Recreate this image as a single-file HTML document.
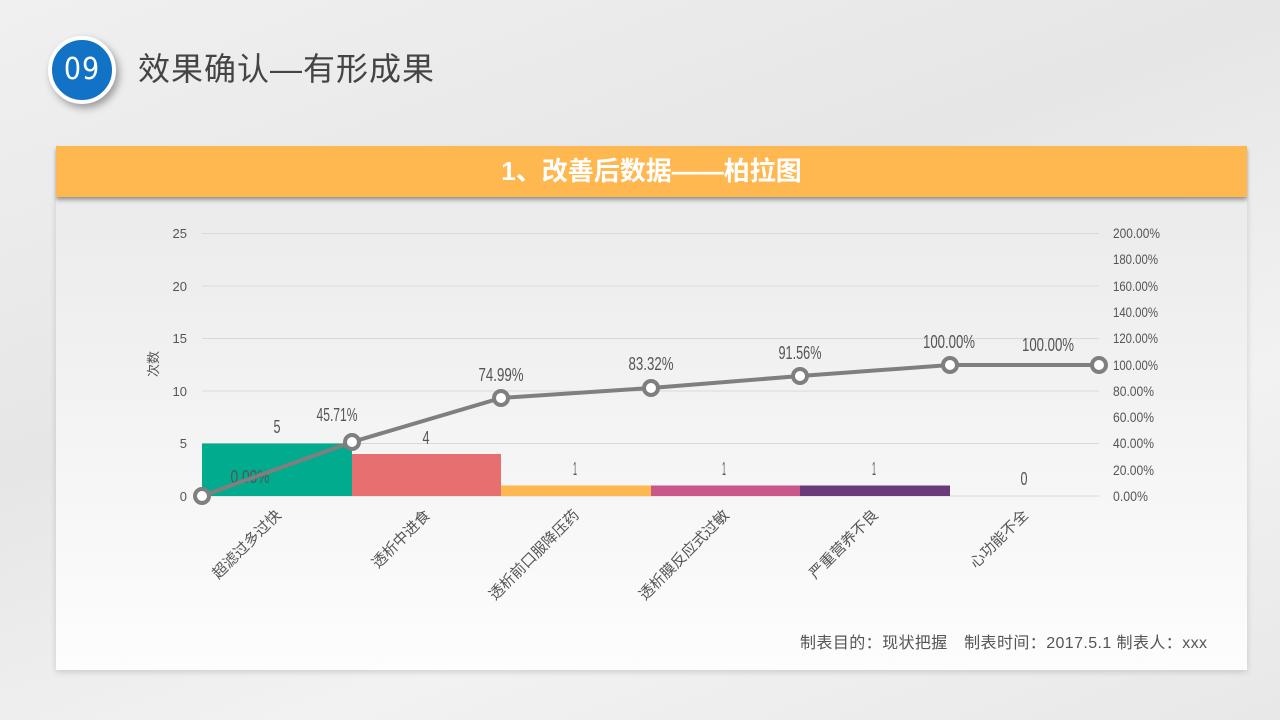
<!DOCTYPE html>
<html><head><meta charset="utf-8"><style>
body{margin:0;width:1280px;height:720px;overflow:hidden;font-family:"Liberation Sans","Noto Sans CJK SC",sans-serif;
background:linear-gradient(160deg,#f0f0f0 0%,#e6e6e6 40%,#f2f2f2 70%,#e8e8e8 100%);position:relative}
.circ{position:absolute;left:48px;top:36px;width:60px;height:60px;border-radius:50%;background:#1172c6;border:4px solid #fff;box-shadow:3px 4px 8px rgba(0,0,0,.35);color:#fff;font-size:30px;line-height:60px;text-align:center;font-family:"DejaVu Sans Condensed","Liberation Sans",sans-serif;letter-spacing:1px}
.title{position:absolute;left:138px;top:44px;font-size:32px;letter-spacing:1px;color:#444;font-family:"Liberation Sans","Noto Sans CJK SC",sans-serif}
.card{position:absolute;left:56px;top:198px;width:1191px;height:472px;background:linear-gradient(#ebebeb,#fdfdfd);box-shadow:0 2px 6px rgba(0,0,0,.15)}
.head{position:absolute;left:56px;top:146px;width:1191px;height:51px;background:#ffb74f;box-shadow:0 3px 4px rgba(0,0,0,.35);color:#fff;font-weight:bold;font-size:26px;line-height:51px;text-align:center}
svg{position:absolute;left:0;top:0}
</style></head><body>
<div class="circ">09</div>
<div class="title">效果确认—有形成果</div>
<div class="card"></div>
<div class="head">1、改善后数据——柏拉图</div>
<svg width="1280" height="720" font-family="Liberation Sans, Noto Sans CJK SC, sans-serif">
<g stroke="#d9d9d9" stroke-width="1">
<line x1="202" y1="233.5" x2="1099" y2="233.5"/><line x1="202" y1="286" x2="1099" y2="286"/>
<line x1="202" y1="338.5" x2="1099" y2="338.5"/><line x1="202" y1="391" x2="1099" y2="391"/>
<line x1="202" y1="443.5" x2="1099" y2="443.5"/><line x1="202" y1="496" x2="1099" y2="496"/></g>
<g font-size="13" fill="#555" text-anchor="end">
<text x="187" y="238">25</text><text x="187" y="291">20</text><text x="187" y="343">15</text>
<text x="187" y="396">10</text><text x="187" y="448">5</text><text x="187" y="501">0</text></g>
<text transform="translate(158,364) rotate(-90)" font-size="13" fill="#555" text-anchor="middle">次数</text>
<g font-size="14" fill="#555" lengthAdjust="spacingAndGlyphs">
<text x="1113" y="238" textLength="47" lengthAdjust="spacingAndGlyphs">200.00%</text><text x="1113" y="264" textLength="45" lengthAdjust="spacingAndGlyphs">180.00%</text><text x="1113" y="291" textLength="45" lengthAdjust="spacingAndGlyphs">160.00%</text>
<text x="1113" y="317" textLength="45" lengthAdjust="spacingAndGlyphs">140.00%</text><text x="1113" y="343" textLength="45" lengthAdjust="spacingAndGlyphs">120.00%</text><text x="1113" y="370" textLength="45" lengthAdjust="spacingAndGlyphs">100.00%</text>
<text x="1113" y="396" textLength="41" lengthAdjust="spacingAndGlyphs">80.00%</text><text x="1113" y="422" textLength="41" lengthAdjust="spacingAndGlyphs">60.00%</text><text x="1113" y="448" textLength="41" lengthAdjust="spacingAndGlyphs">40.00%</text>
<text x="1113" y="475" textLength="41" lengthAdjust="spacingAndGlyphs">20.00%</text><text x="1113" y="501" textLength="35" lengthAdjust="spacingAndGlyphs">0.00%</text></g>
<rect x="202" y="443.5" width="150" height="52.5" fill="#00ab8e"/>
<rect x="352" y="454" width="149" height="42" fill="#e86f6f"/>
<rect x="501" y="485.5" width="150" height="10.5" fill="#ffb74f"/>
<rect x="651" y="485.5" width="149" height="10.5" fill="#c9578a"/>
<rect x="800" y="485.5" width="150" height="10.5" fill="#6a3a7a"/>
<g font-size="18" fill="#555" text-anchor="middle">
<text x="277" y="433" textLength="7" lengthAdjust="spacingAndGlyphs">5</text><text x="426" y="444" textLength="7" lengthAdjust="spacingAndGlyphs">4</text><text x="575" y="475" textLength="4" lengthAdjust="spacingAndGlyphs">1</text>
<text x="724" y="475" textLength="4" lengthAdjust="spacingAndGlyphs">1</text><text x="874" y="475" textLength="4" lengthAdjust="spacingAndGlyphs">1</text><text x="1024" y="485" textLength="7" lengthAdjust="spacingAndGlyphs">0</text>
<text x="250" y="483" textLength="39" lengthAdjust="spacingAndGlyphs">0.00%</text><text x="337" y="421" textLength="41" lengthAdjust="spacingAndGlyphs">45.71%</text><text x="501" y="381" textLength="45" lengthAdjust="spacingAndGlyphs">74.99%</text>
<text x="651" y="370" textLength="45" lengthAdjust="spacingAndGlyphs">83.32%</text><text x="800" y="359" textLength="43" lengthAdjust="spacingAndGlyphs">91.56%</text><text x="949" y="348" textLength="52" lengthAdjust="spacingAndGlyphs">100.00%</text>
<text x="1048" y="351" textLength="52" lengthAdjust="spacingAndGlyphs">100.00%</text></g>
<polyline points="202,496 352,442 501,398 651,388 800,376 950,365 1099,365" fill="none" stroke="#7f7f7f" stroke-width="4"/>
<g fill="#fff" stroke="#7f7f7f" stroke-width="4">
<circle cx="202" cy="496" r="7"/><circle cx="352" cy="442" r="7"/><circle cx="501" cy="398" r="7"/>
<circle cx="651" cy="388" r="7"/><circle cx="800" cy="376" r="7"/><circle cx="950" cy="365" r="7"/><circle cx="1099" cy="365" r="7"/></g>
<g font-size="15" fill="#555" text-anchor="end">
<text transform="translate(282,516) rotate(-45)">超滤过多过快</text>
<text transform="translate(431,516) rotate(-45)">透析中进食</text>
<text transform="translate(580,516) rotate(-45)">透析前口服降压药</text>
<text transform="translate(730,516) rotate(-45)">透析膜反应式过敏</text>
<text transform="translate(879,516) rotate(-45)">严重营养不良</text>
<text transform="translate(1029,516) rotate(-45)">心功能不全</text></g>
<text x="800" y="648" font-size="16" fill="#555" textLength="407" lengthAdjust="spacing">制表目的：现状把握　制表时间：2017.5.1  制表人：xxx</text>
</svg>
</body></html>
